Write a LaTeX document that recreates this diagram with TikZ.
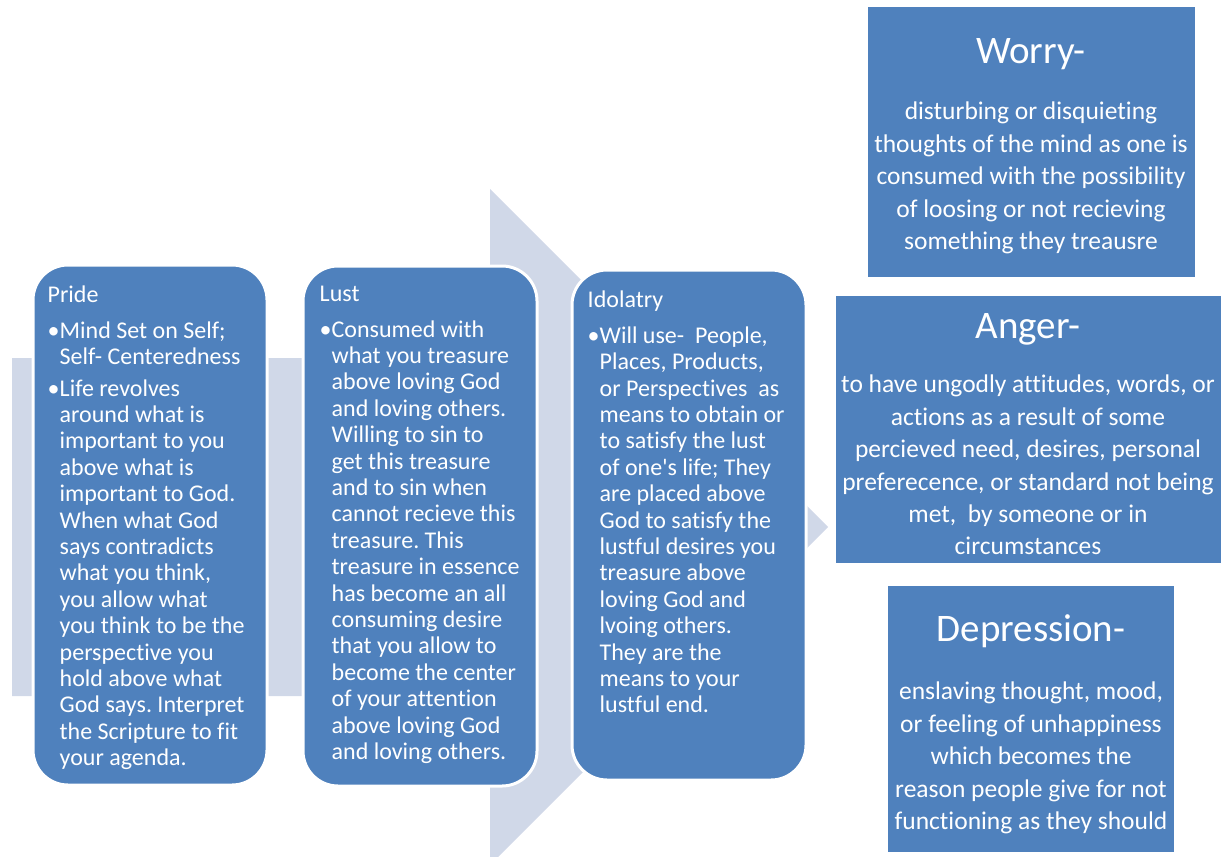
\documentclass[tikz,border=0pt]{standalone}
\usepackage{fontspec}
\setmainfont{Carlito}[Ligatures={NoCommon}]
\usetikzlibrary{positioning}
\definecolor{boxblue}{HTML}{4F81BD}
\definecolor{arrowgrey}{HTML}{D0D8E8}
\newcommand{\bul}{\makebox[12pt][l]{\textbullet}}
\newcommand{\ind}{\hspace*{12pt}}
\frenchspacing

\begin{document}
\begin{tikzpicture}[
    x=1pt, y=-1pt,
    stage/.style = {rectangle, rounded corners=35pt, draw=white, line width=3pt, fill=boxblue, minimum width=234pt, minimum height=520pt},
    stagetext/.style = {anchor=north west, inner sep=0pt, align=left, text=white, font=\fontsize{24}{26.4}\selectfont},
    sinbox/.style = {rectangle, draw=white, line width=1pt, fill=boxblue},
    sinhead/.style = {anchor=base, inner sep=0pt, text=white, font=\fontsize{39}{44}\selectfont},
    sinbody/.style = {anchor=north, inner sep=0pt, align=center, text=white, font=\fontsize{25.5}{32.4}\selectfont}
]
    \clip (0,0) rectangle (1222,856);
    % Background arrow
    \fill[arrowgrey] (12,358) -- (490,358) -- (490,189) -- (828,527) -- (490,865) -- (490,696) -- (12,696) -- cycle;
    % Stages
    \node[stage] (pride) at (150,525) {};
    \node[stage] (lust) at (420,526) {};
    \node[stage, minimum height=510pt] (idolatry) at (689,525) {};
    \node[stagetext] (pridetext) at ([shift={(16,22)}]pride.north west) {Pride\\[9.6pt]
        \bul Mind Set on Self;\\
        \ind Self- Centeredness\\[5pt]
        \bul Life revolves\\
        \ind around what is\\
        \ind important to you\\
        \ind above what is\\
        \ind important to God.\\
        \ind When what God\\
        \ind says contradicts\\
        \ind what you think,\\
        \ind you allow what\\
        \ind you think to be the\\
        \ind perspective you\\
        \ind hold above what\\
        \ind God says. Interpret\\
        \ind the Scripture to fit\\
        \ind your agenda.};
    \node[stagetext] (lusttext) at ([shift={(18,21)}]lust.north west) {Lust\\[9.6pt]
        \bul Consumed with\\
        \ind what you treasure\\
        \ind above loving God\\
        \ind and loving others.\\
        \ind Willing to sin to\\
        \ind get this treasure\\
        \ind and to sin when\\
        \ind cannot recieve this\\
        \ind treasure. This\\
        \ind treasure in essence\\
        \ind has become an all\\
        \ind consuming desire\\
        \ind that you allow to\\
        \ind become the center\\
        \ind of your attention\\
        \ind above loving God\\
        \ind and loving others.};
    \node[stagetext] (idolatrytext) at ([shift={(17,22)}]idolatry.north west) {Idolatry\\[9.6pt]
        \bul Will use-\ \ People,\\
        \ind Places, Products,\\
        \ind or Perspectives\ \ as\\
        \ind means to obtain or\\
        \ind to satisfy the lust\\
        \ind of one\textquotesingle s life; They\\
        \ind are placed above\\
        \ind God to satisfy the\\
        \ind lustful desires you\\
        \ind treasure above\\
        \ind loving God and\\
        \ind lvoing others.\\
        \ind They are the\\
        \ind means to your\\
        \ind lustful end.};
    % Results
    \node[sinbox, minimum width=328pt, minimum height=270pt] (worry) at (1031,142) {};
    \node[sinbox, minimum width=386pt, minimum height=268pt] (anger) at (1028,429) {};
    \node[sinbox, minimum width=287pt, minimum height=267pt] (depression) at (1031,719) {};
    \node[sinhead] (worryhead) at (1031,64) {Worry-};
    \node[sinbody] (worrybody) at (1031,102) {disturbing or disquieting\\
        thoughts of the mind as one is\\
        consumed with the possibility\\
        of loosing or not recieving\\
        something they treausre};
    \node[sinhead] (angerhead) at (1028,338) {Anger-};
    \node[sinbody] (angerbody) at (1028,375) {to have ungodly attitudes, words, or\\
        actions as a result of some\\
        percieved need, desires, personal\\
        preferecence, or standard not being\\
        met,\ \ by someone or in\\
        circumstances};
    \node[sinhead] (depressionhead) at (1031,641) {Depression-};
    \node[sinbody] (depressionbody) at (1031,682) {enslaving thought, mood,\\
        or feeling of unhappiness\\
        which becomes the\\
        reason people give for not\\
        functioning as they should};
\end{tikzpicture}
\end{document}
